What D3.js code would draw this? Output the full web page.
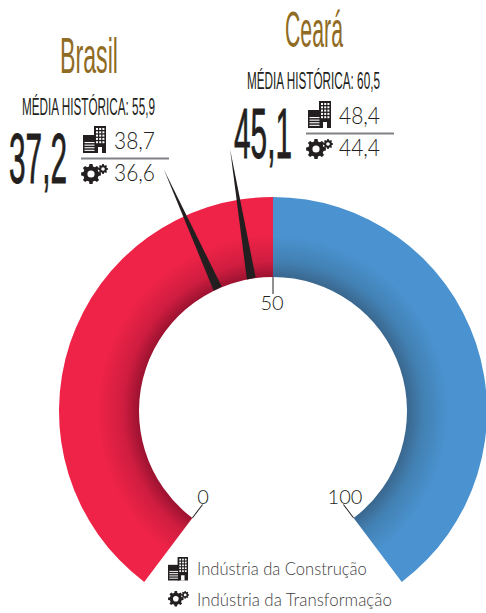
<!DOCTYPE html>
<html>
<head>
<meta charset="utf-8">
<script src="https://cdn.jsdelivr.net/npm/d3@7"></script>
<style>
  html, body { margin: 0; background: #fff; }
  svg { display: block; }
  .cond { font-family: "Liberation Sans Narrow", "Liberation Sans", sans-serif; }
  .light { font-family: Lato, "Open Sans", sans-serif; font-weight: 300; }
</style>
</head>
<body>
<div id="chart"></div>
<script>
const regions = ["Brasil", "Ceará"];
const overall = [37.2, 45.1];
const historical = [55.9, 60.5];
const construction = [38.7, 48.4];
const transformation = [36.6, 44.4];
const gaugeTicks = [0, 50, 100];
const legendLabels = ["Indústria da Construção", "Indústria da Transformação"];

const width = 486, height = 613;
const cx = 273, cy = 411;
const outerR = 214, innerR = 134;

const fmt = d3.formatLocale({ decimal: ",", thousands: ".", grouping: [3], currency: ["", ""] }).format(".1f");

const svg = d3.select("#chart").append("svg")
    .attr("width", width)
    .attr("height", height);

const defs = svg.append("defs");

// arc runs from -143deg to 143deg, 50 is on top
const angle = d3.scaleLinear().domain([0, 100]).range([-143, 143]);
// the needles in the original don't follow the arc ends, they sit at about 1.9deg per point
const needleAngle = d3.scaleLinear().domain([0, 100]).range([-95, 95]);
const rad = d => d * Math.PI / 180;

// gradient is used inside the translated gauge group, so its centre is 0,0
function shade(id, dark, mid, flat) {
    const g = defs.append("radialGradient")
        .attr("id", id)
        .attr("gradientUnits", "userSpaceOnUse")
        .attr("cx", 0).attr("cy", 0).attr("r", outerR);
    g.append("stop").attr("offset", innerR / outerR).attr("stop-color", dark);
    g.append("stop").attr("offset", 0.70).attr("stop-color", mid);
    g.append("stop").attr("offset", 0.82).attr("stop-color", flat);
    g.append("stop").attr("offset", 1).attr("stop-color", flat);
}
shade("redShade", "#9c1230", "#cf1d40", "#ee2347");
shade("blueShade", "#3a678e", "#4280b2", "#4a93d0");

const gauge = svg.append("g").attr("transform", `translate(${cx},${cy})`);
const arc = d3.arc().innerRadius(innerR).outerRadius(outerR);

gauge.selectAll("path.band")
    .data([
        { from: gaugeTicks[0], to: gaugeTicks[1], fill: "url(#redShade)" },
        { from: gaugeTicks[1], to: gaugeTicks[2], fill: "url(#blueShade)" }
    ])
    .join("path")
    .attr("class", "band")
    .attr("fill", d => d.fill)
    .attr("d", d => arc({ startAngle: rad(angle(d.from)), endAngle: rad(angle(d.to)) }));

// Needles
const needleTip = 265;
gauge.selectAll("path.needle")
    .data(overall)
    .join("path")
    .attr("class", "needle")
    .attr("fill", "#231f20")
    .attr("transform", d => `rotate(${needleAngle(d)})`)
    .attr("d", `M-4.5,${-innerR}L4.5,${-innerR - 0.5}L0,${-needleTip}Z`);

// Ticks
gauge.selectAll("line.tick")
    .data(gaugeTicks)
    .join("line")
    .attr("class", "tick")
    .attr("stroke", "#231f20")
    .attr("stroke-width", 1)
    .attr("transform", d => `rotate(${angle(d)})`)
    .attr("y1", -innerR)
    .attr("y2", -innerR + 17);

gauge.selectAll("text.tick-label")
    .data(gaugeTicks)
    .join("text")
    .attr("class", "tick-label light")
    .attr("text-anchor", "middle")
    .attr("font-size", 20)
    .attr("fill", "#231f20")
    .attr("x", d => d === 50 ? -1 : d === 0 ? -70 : 72)
    .attr("y", d => d === 50 ? -101 : 93)
    .text(d => d);

// squeezes a text to a given width, starting at x. No condensed display face is installed
function fit(sel, x, y, w) {
    const natural = sel.node().getComputedTextLength();
    sel.attr("transform", `translate(${x},${y}) scale(${w / natural},1)`);
    return sel;
}

// Icons
function building(g) {
    g.append("rect").attr("x", 0).attr("y", 9).attr("width", 13).attr("height", 18).attr("fill", "#231f20");
    g.append("rect").attr("x", 11).attr("y", 0).attr("width", 12).attr("height", 27).attr("fill", "#231f20");
    d3.range(4).forEach(i => {
        g.append("rect").attr("x", 1.5).attr("y", 16 + i * 2.6).attr("width", 10).attr("height", 1.1).attr("fill", "#fff");
    });
    d3.range(3).forEach(c => d3.range(5).forEach(r => {
        g.append("rect").attr("x", 13 + c * 3.2).attr("y", 2 + r * 3.3).attr("width", 2).attr("height", 2).attr("fill", "#fff");
    }));
    g.append("rect").attr("x", 15).attr("y", 21).attr("width", 4).attr("height", 6).attr("fill", "#fff");
}

function gearPath(r, teeth) {
    const pts = [];
    const step = 2 * Math.PI / teeth;
    for (let i = 0; i < teeth; i++) {
        const a = i * step;
        [[-0.32, 0.78], [-0.2, 1], [0.2, 1], [0.32, 0.78]].forEach(p => {
            const t = a + p[0] * step;
            pts.push([Math.cos(t) * r * p[1], Math.sin(t) * r * p[1]]);
        });
    }
    return "M" + pts.map(p => p.map(v => v.toFixed(2)).join(",")).join("L") + "Z";
}

function gears(g) {
    [{ x: 10, y: 10, r: 10, hole: 3.6 }, { x: 22, y: 5, r: 5, hole: 1.8 }].forEach(d => {
        g.append("path").attr("transform", `translate(${d.x},${d.y})`).attr("d", gearPath(d.r, 8)).attr("fill", "#231f20");
        g.append("circle").attr("cx", d.x).attr("cy", d.y).attr("r", d.hole).attr("fill", "#fff");
    });
}

// Panels, one for each region
const panelLayout = [
    { titleX: 60, titleY: 73, histX: 22, histY: 115, bigX: 9, bigY: 183, ox: 81, oy: 0 },
    { titleX: 285, titleY: 47, histX: 247, histY: 89, bigX: 234, bigY: 158, ox: 306, oy: -25 }
];

regions.forEach((name, i) => {
    const p = panelLayout[i];
    const g = svg.append("g");

    fit(g.append("text").attr("class", "cond")
        .attr("font-size", 50)
        .attr("fill", "#8f6b24")
        .text(name), p.titleX, p.titleY, 58);

    fit(g.append("text").attr("class", "cond")
        .attr("font-size", 23)
        .attr("fill", "#231f20")
        .text(`MÉDIA HISTÓRICA: ${fmt(historical[i])}`), p.histX, p.histY, 133);

    fit(g.append("text").attr("class", "cond")
        .attr("font-size", 71)
        .attr("fill", "#231f20")
        .attr("stroke", "#231f20").attr("stroke-width", 0.9)
        .text(fmt(overall[i])), p.bigX, p.bigY, 58);

    g.append("line")
        .attr("x1", p.ox).attr("x2", p.ox + 88)
        .attr("y1", 158.5 + p.oy).attr("y2", 158.5 + p.oy)
        .attr("stroke", "#808285").attr("stroke-width", 2);

    building(g.append("g").attr("transform", `translate(${p.ox + 2},${126 + p.oy})`));
    gears(g.append("g").attr("transform", `translate(${p.ox},${164 + p.oy})`));

    [{ v: construction[i], y: 149 }, { v: transformation[i], y: 181 }].forEach(d => {
        fit(g.append("text")
            .attr("class", "light")
            .attr("font-size", 23)
            .attr("fill", "#231f20")
            .text(fmt(d.v)), p.ox + 33, d.y + p.oy, 41);
    });
});

// Legend
const legend = svg.append("g");
building(legend.append("g").attr("transform", "translate(168,557) scale(0.87)"));
gears(legend.append("g").attr("transform", "translate(168,591) scale(0.78)"));
legend.selectAll("text")
    .data(legendLabels)
    .join("text")
    .attr("class", "light")
    .attr("font-size", 17)
    .attr("fill", "#414042")
    .text(d => d)
    .each(function (d, i) {
        fit(d3.select(this), 197, 575 + i * 31, i === 0 ? 170 : 195);
    });
</script>
</body>
</html>
